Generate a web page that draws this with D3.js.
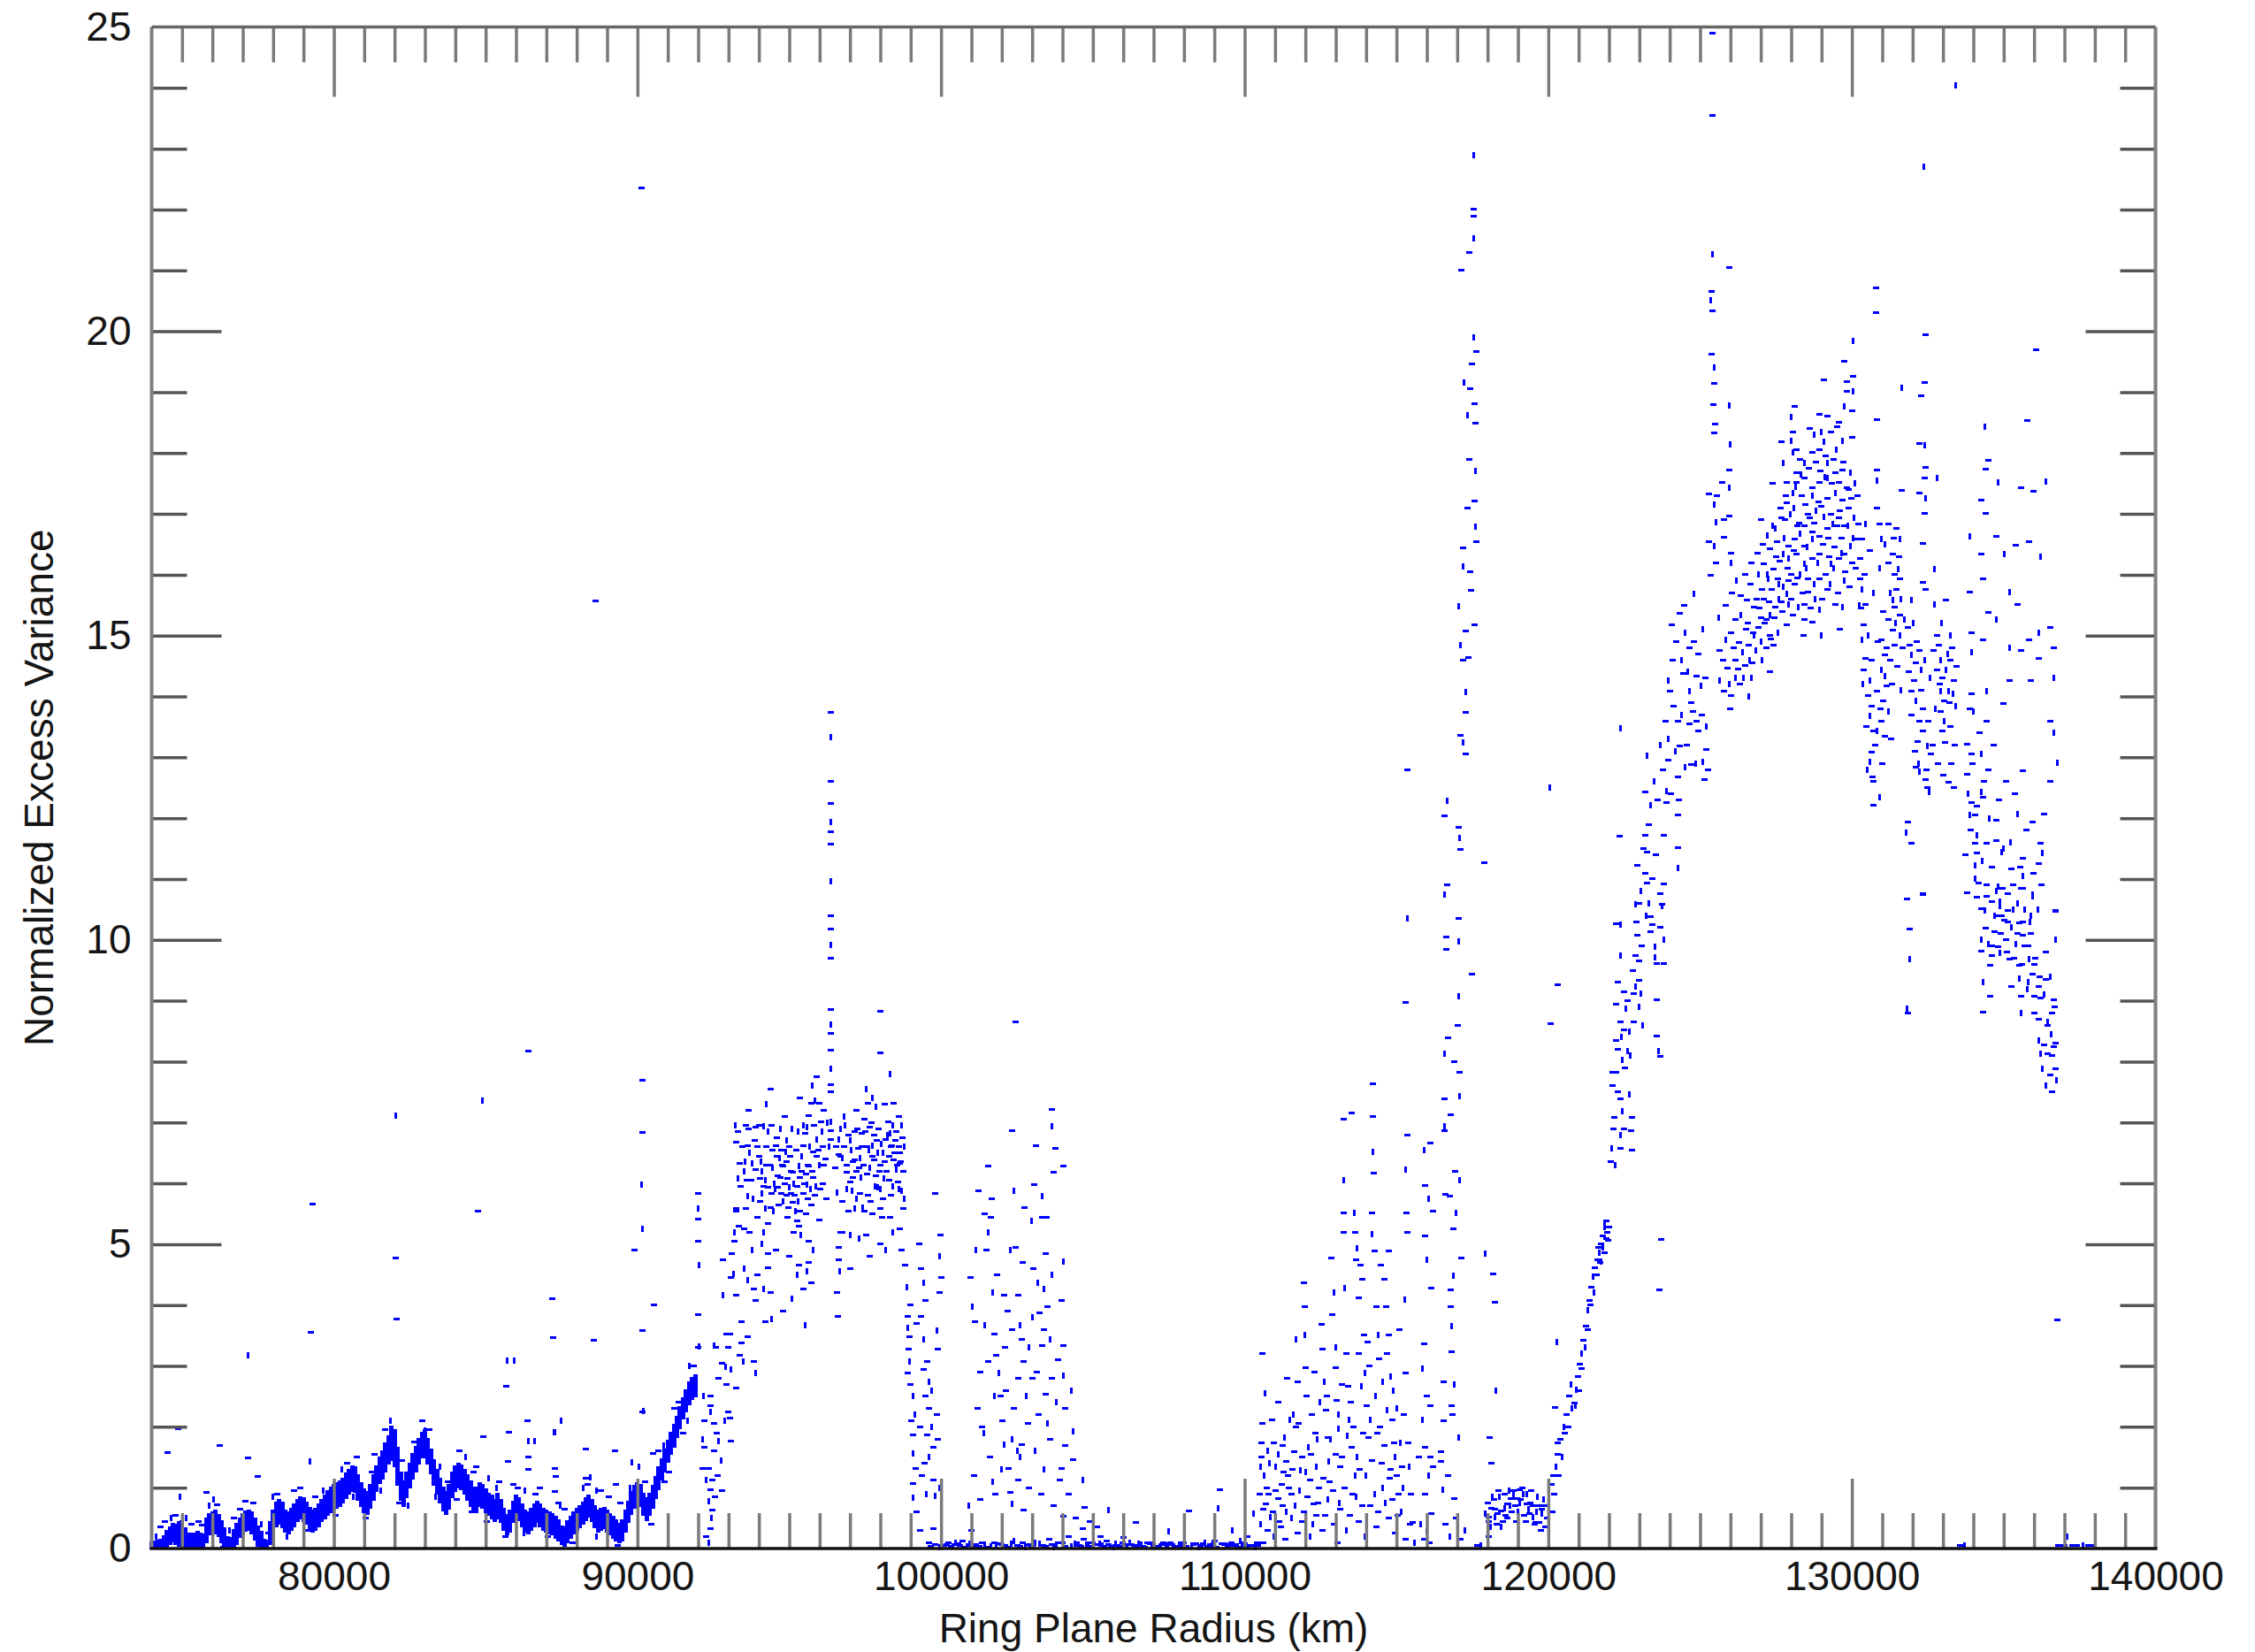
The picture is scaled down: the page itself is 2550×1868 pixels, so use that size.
<!DOCTYPE html>
<html>
<head>
<meta charset="utf-8">
<title>Normalized Excess Variance vs Ring Plane Radius</title>
<script src="https://cdn.jsdelivr.net/npm/d3@7"></script>
<style>
  html, body { margin: 0; padding: 0; background: #ffffff; overflow: hidden; }
  svg { display: block; }
</style>
</head>
<body>
<svg id="chart" width="2550" height="1868"></svg>
<script>
// ---- Axis settings -------------------------------------------------------
const radiusDomain = [74000, 140000];          // km
const varianceDomain = [0, 25];
const xTickLabels = [80000, 90000, 100000, 110000, 120000, 130000, 140000];
const yTickLabels = [0, 5, 10, 15, 20, 25];
const xTitle = "Ring Plane Radius (km)";
const yTitle = "Normalized Excess Variance";

// ---- C ring: dense band, [radius km, low, high] -------------------------
const cRingBand = [
[74000,0,0.1],[74100,0,0.12],[74200,0,0.13],[74300,0,0.15],[74400,0,0.21],[74500,0.03,0.29],[74600,0.07,0.35],
[74700,0.11,0.41],[74800,0.07,0.39],[74900,0.05,0.43],[75000,0.07,0.45],[75100,0,0.33],[75200,0,0.25],
[75300,0,0.25],[75400,0,0.25],[75500,0,0.27],[75600,0,0.25],[75700,0,0.23],[75800,0.1,0.5],[75900,0.23,0.57],
[76000,0.25,0.6],[76100,0.25,0.63],[76200,0.2,0.55],[76300,0.1,0.45],[76400,0.03,0.33],[76500,0,0.19],
[76600,0,0.17],[76700,0,0.3],[76800,0.07,0.4],[76900,0.19,0.5],[77000,0.25,0.57],[77100,0.29,0.61],
[77200,0.31,0.63],[77300,0.25,0.6],[77400,0.15,0.5],[77500,0.05,0.37],[77600,0,0.27],[77700,0,0.15],
[77800,0,0.13],[77900,0.07,0.43],[78000,0.25,0.63],[78100,0.37,0.75],[78200,0.4,0.8],[78300,0.35,0.75],
[78400,0.27,0.63],[78500,0.25,0.6],[78600,0.31,0.65],[78700,0.37,0.73],[78800,0.45,0.8],[78900,0.5,0.85],
[79000,0.45,0.83],[79100,0.4,0.75],[79200,0.33,0.67],[79300,0.27,0.63],[79400,0.3,0.65],[79500,0.37,0.73],
[79600,0.45,0.8],[79700,0.5,0.87],[79800,0.55,0.95],[79900,0.6,1.0],[80000,0.65,1.05],[80100,0.67,1.07],
[80200,0.7,1.1],[80300,0.75,1.15],[80400,0.83,1.23],[80500,0.9,1.3],[80600,0.95,1.35],[80700,0.93,1.33],
[80800,0.8,1.2],[80900,0.7,1.07],[81000,0.6,0.97],[81100,0.57,0.93],[81200,0.67,1.05],[81300,0.8,1.2],
[81400,0.95,1.35],[81500,1.07,1.5],[81600,1.15,1.6],[81700,1.27,1.73],[81800,1.4,1.85],[81900,1.45,2.0],
[82000,1.35,1.95],[82100,1.05,1.65],[82200,0.8,1.25],[82300,0.7,1.1],[82400,0.85,1.25],[82500,1.0,1.4],
[82600,1.15,1.55],[82700,1.27,1.67],[82800,1.4,1.8],[82900,1.5,1.9],[83000,1.5,1.95],[83100,1.4,1.8],
[83200,1.23,1.63],[83300,1.05,1.45],[83400,0.9,1.3],[83500,0.75,1.15],[83600,0.63,1.0],[83700,0.57,0.93],
[83800,0.65,1.05],[83900,0.85,1.25],[84000,0.95,1.35],[84100,1.0,1.4],[84200,0.97,1.37],[84300,0.9,1.3],
[84400,0.8,1.2],[84500,0.7,1.1],[84600,0.63,1.0],[84700,0.6,1.0],[84800,0.7,1.07],[84900,0.67,1.05],
[85000,0.6,0.97],[85100,0.55,0.9],[85200,0.5,0.87],[85300,0.45,0.8],[85400,0.5,0.9],[85500,0.43,0.8],
[85600,0.3,0.65],[85700,0.23,0.55],[85800,0.27,0.63],[85900,0.43,0.77],[86000,0.53,0.87],[86100,0.47,0.83],
[86200,0.37,0.73],[86300,0.27,0.63],[86400,0.25,0.6],[86500,0.3,0.65],[86600,0.37,0.73],[86700,0.43,0.77],
[86800,0.37,0.73],[86900,0.3,0.65],[87000,0.27,0.63],[87100,0.25,0.6],[87200,0.23,0.57],[87300,0.17,0.53],
[87400,0.13,0.47],[87500,0.07,0.37],[87600,0.05,0.35],[87700,0.1,0.45],[87800,0.17,0.53],[87900,0.25,0.6],
[88000,0.3,0.65],[88100,0.35,0.7],[88200,0.4,0.75],[88300,0.47,0.83],[88400,0.53,0.87],[88500,0.45,0.8],
[88600,0.35,0.7],[88700,0.27,0.63],[88800,0.3,0.65],[88900,0.33,0.67],[89000,0.27,0.63],[89100,0.23,0.57],
[89200,0.17,0.53],[89300,0.13,0.47],[89400,0.1,0.4],[89500,0.13,0.47],[89600,0.27,0.63],[89700,0.43,0.77],
[89800,0.57,0.93],[89900,0.67,1.03],[90000,0.73,1.07],[90100,0.7,1.05],[90200,0.55,0.9],[90300,0.47,0.83],
[90400,0.55,0.9],[90500,0.67,1.03],[90600,0.83,1.17],[90700,0.97,1.33],[90800,1.13,1.47],[90900,1.27,1.63],
[91000,1.43,1.77],[91100,1.55,1.9],[91200,1.67,2.03],[91300,1.83,2.17],[91400,1.97,2.33],[91500,2.13,2.47],
[91600,2.25,2.6],[91700,2.37,2.73],[91800,2.45,2.8],[91900,2.5,2.85]
];

// ---- C ring: isolated samples, [radius km, value] -----------------------
const cRingScatter = [
[74510,1.57],[74880,1.97],[74930,0.85],[75810,0.92],[76250,1.7],[77170,3.17],[77170,1.49],[77500,1.18],
[79220,1.43],[79230,3.56],[79290,5.66],[82040,7.12],[82050,4.77],[82060,3.77],[82990,1.94],[84690,1.34],
[84760,5.54],[84900,7.36],[84920,1.84],[85690,2.66],[85720,3.09],[85740,1.43],[85760,1.91],[85950,3.09],
[86380,2.1],[86400,8.18],[86400,1.77],[86420,1.5],[86420,1.3],[86600,1.76],[87200,4.11],[87220,3.46],
[87250,1.91],[87270,0.93],[87270,1.32],[87280,1.91],[87320,1.18],[87400,0.75],[87480,2.1],[88310,1.16],
[88310,1.63],[88440,1.17],[88570,3.42],[88620,15.57],[88640,0.95],[89250,1.61],[89300,1.05],[89810,1.41],
[89900,4.9],[90140,22.35],[90150,5.98],[90160,7.7],[90160,6.84],[90160,5.25],[90160,3.58],[90170,2.25],
[90200,2.26],[90550,4.0],[90520,1.56],[92020,3.32],[92570,3.3],
[74300,0.35],[74650,0.5],[75300,0.4],[75550,0.45],[76050,0.8],[76700,0.5],[77350,0.75],[78000,0.85],
[78700,0.95],[79400,0.85],[80250,1.3],[80750,1.5],[81350,1.55],[81850,2.1],[82250,1.45],[82900,2.1],
[83500,1.35],[84150,1.6],[84600,1.25],[85100,1.15],[85450,1.1],[85900,1.05],[86300,0.95],[86800,1.0],
[87600,0.65],[88200,1.0],[88800,0.95],[89450,0.75],[90050,1.35],[90700,1.6],[91200,2.3],[91700,3.0],
[91500,1.9],[90900,1.1],
[74150,0.2],[74450,0.45],[74800,0.55],[75150,0.5],[75450,0.05],[75650,0.38],[75900,0.7],[76150,0.72],
[76350,0.02],[76550,0.3],[76900,0.65],[77100,0.78],[77600,0.4],[77850,0.25],[78150,0.9],[78450,0.2],
[78900,1.0],[79150,0.3],[79650,0.95],[80050,0.55],[80450,1.4],[80650,0.85],[81050,0.5],[81250,1.25],
[81550,0.95],[81700,1.95],[82150,0.75],[82450,0.7],[82650,1.75],[83150,1.95],[83350,0.85],[83750,1.1],
[84050,0.8],[84350,1.5],[84550,0.6],[85050,0.45],[85350,1.0],[85650,0.2],[86050,1.0],[86250,0.25],
[86650,0.9],[87050,0.2],[87450,0.7],[87850,0.1],[88350,1.05],[88650,0.2],[89050,0.85],[89350,0.05],
[89750,1.0],[90250,1.1],[90450,0.4],[90850,1.7],[91050,1.25],[91350,2.4],[91650,2.1],[91850,3.0]
];

// ---- B ring, inner part (92 000 - 98 800 km) -----------------------------
const bRingInner = [
[92010,5.83],[92010,5.59],[92010,5.41],[92010,5.05],[92040,4.66],[91990,3.84],[91990,3.3],
[92170,2.5],[92210,2.1],[92400,2.5],[92400,2.25],[92530,2.05],[92600,1.9],[92140,1.8],[92210,1.66],
[92530,1.61],[92660,1.76],[92140,1.32],[92340,1.32],[92270,1.12],[92470,1.12],[92400,0.97],[92340,0.78],
[92470,0.63],[92400,0.33],[92340,0.09],[92400,2.35],[92250,0.2],[92450,0.5],[92550,0.85],[92650,1.2],
[92750,1.45],[92800,0.95],
[92820,4.75],[92820,4.17],[92920,3.53],[92990,3.3],[92900,2.99],[92920,2.69],[92990,2.25],[92860,2.1],
[93050,2.15],[93090,1.76],[92530,3.33],[92790,3.04],[92660,2.79],[93090,2.94],[93050,3.53],[93090,4.46],
[93180,5.2],[93180,5.05],[93120,4.85],[93160,4.51],[93250,4.17],[93380,3.18],[93480,3.08],[93440,3.72],
[93440,3.38],[93770,4.9],[93830,4.26],[93900,4.07],[93640,4.41],[93510,5.25],[93570,5.59],[93640,5.79],
[93250,5.59],[93250,5.54],[93310,6.08],[93380,6.33],[93250,6.67],[93220,6.96],[93570,6.96],[93900,6.92],
[94160,6.94],[94420,6.96],[93640,6.62],[93770,6.33],[93900,6.23],[94030,6.08],[94090,5.84],[94290,5.93],
[94420,5.84],[94220,5.59],[93960,5.44],[94290,5.34],[94160,5.2],[94290,4.85],[94310,4.61],[94160,4.26],
[94220,3.72],[93830,3.08],[93900,2.89],[93640,3.48],[93250,2.64],[94420,3.77],[94390,7.55],
[94550,6.62],[94680,6.42],[94810,6.28],[94940,6.08],[95000,5.93],[95070,5.84],[95130,5.69],[95200,5.54],
[95260,5.39],[95330,5.29],[94870,6.52],[94610,6.13],[94740,5.84],[94480,5.54],[94940,5.44],[95130,6.18],
[95330,6.28],[95460,6.62],[95520,6.82],[95590,6.92],[95650,7.11],[95720,7.31],[95850,7.36],[95980,7.31],
[96040,7.01],[95910,6.72],[95780,6.52],[95650,6.28],[95590,5.98],[95460,5.84],[95720,5.64],[95390,5.15],
[95650,5.05],[95330,4.66],[95590,4.56],[95720,4.36],[95460,4.26],[95520,3.67],[94610,5.93],[95910,7.75],
[93700,6.5],[93850,6.7],[94000,6.45],[94100,6.2],[94250,6.6],[94350,6.3],[94500,6.0],[94600,6.75],
[94700,6.1],[94800,5.7],[94900,6.35],[95050,6.2],[95150,6.0],[95250,5.95],[95350,6.1],[95400,6.45],
[95500,6.0],[95600,6.3],[95700,5.9],[95800,6.1],[95900,6.45],[96000,6.3],[96100,6.6],[94050,5.7],
[94450,6.25],[94750,6.55],[95000,6.6],[95300,5.7],[95550,5.5],[95850,5.8],[93500,6.2],[93400,5.95],
[93600,6.05],[94200,6.05],[94900,5.8],[95150,5.2],[95800,4.9],[96100,6.0],[96200,6.4],[96250,7.0],
[93300,6.85],[93450,6.6],[93550,6.35],[93650,6.9],[93750,6.05],[93800,5.75],[93950,6.6],[94000,6.95],
[94080,6.35],[94150,5.95],[94250,6.3],[94300,6.85],[94380,5.6],[94450,6.55],[94520,5.9],[94580,6.45],
[94650,5.65],[94700,6.9],[94780,6.3],[94850,6.0],[94920,6.7],[94980,5.6],[95030,6.45],[95100,6.9],
[95180,5.8],[95230,6.55],[95280,6.85],[95350,5.55],[95420,6.2],[95480,6.95],[95540,6.15],[95620,5.75],
[95680,6.6],[95760,6.2],[95820,6.95],[95880,5.95],[95950,6.55],[96020,5.9],[96080,6.85],[96150,6.3],
[96220,5.75],[96300,6.6],[93350,5.3],[93700,5.2],[94100,5.0],[94550,4.9],[95000,4.8],[95250,4.5],
[95650,4.7],[96000,5.4],[93500,4.6],[93950,4.5],[94400,4.2],[95100,4.1],[94800,3.9],[93650,7.2],
[94250,7.3],[94850,7.1],[95350,7.4],[95750,7.6],[96150,7.2],
[96370,13.74],[96360,13.33],[96370,12.61],[96360,12.24],[96370,11.94],[96380,11.78],[96360,11.58],
[96370,10.97],[96380,10.4],[96360,10.18],[96370,9.91],[96380,9.7],[96370,8.86],[96360,8.61],[96380,8.46],
[96360,8.19],[96370,7.88],[96380,7.62],[96360,7.5],[96370,7.01],[96380,6.87],[96370,6.72],
[96630,6.72],[96600,3.82],[96630,6.47],[96760,6.42],[96890,6.18],[97020,6.03],[97080,5.88],[97150,6.38],
[97270,6.57],[97340,6.42],[97400,6.82],[97470,7.06],[97530,7.55],[97600,7.31],[97660,6.92],[97730,6.62],
[97790,6.38],[97860,6.13],[97920,5.93],[97990,5.59],[98050,5.44],[98120,6.08],[98180,6.72],[98250,7.01],
[98310,6.82],[98380,6.62],[98440,6.38],[98510,6.23],[98570,6.03],[98640,6.33],[98700,5.88],[98770,5.59],
[98440,7.31],[97860,7.26],[97990,8.14],[97990,8.83],[98310,7.8],[96630,4.95],[96630,4.75],[96650,4.56],
[96560,4.21],[96760,5.2],[97020,5.15],[97530,5.15],[98310,5.44],[98180,4.9],[98640,5.25],[97470,5.54],
[97150,5.59],[97730,5.5],[97340,5.84],
[96700,6.9],[96800,6.6],[96950,6.8],[97050,6.55],[97200,6.2],[97250,6.9],[97350,6.1],[97450,6.3],
[97550,6.6],[97650,6.25],[97700,7.0],[97800,6.8],[97900,6.5],[97950,6.9],[98000,6.3],[98100,6.5],
[98200,6.2],[98300,6.45],[98400,6.95],[98500,6.7],[98600,6.6],[98700,6.95],[98650,6.5],[98550,6.3],
[96900,5.9],[97100,6.1],[97600,5.8],[98000,5.9],[98350,5.8],[98750,6.2],[98800,6.6],[96550,6.6],
[96500,6.25],[96580,5.85],[96680,6.45],[96750,5.7],[96830,6.95],[96880,6.3],[96960,5.55],[97010,6.7],
[97090,6.35],[97160,6.85],[97220,5.75],[97300,6.25],[97380,6.6],[97420,5.6],[97500,6.85],[97560,6.15],
[97620,6.55],[97680,5.7],[97750,6.45],[97830,5.95],[97880,6.7],[97960,6.2],[98030,6.65],[98080,5.75],
[98150,6.35],[98220,6.8],[98280,6.05],[98340,6.6],[98420,5.95],[98470,6.5],[98530,6.85],[98600,5.9],
[98680,6.35],[98730,6.75],[98780,5.75],[96700,5.2],[97000,4.6],[97300,5.1],[97650,4.8],[98000,5.0],
[98400,5.2],[98700,4.9],[97200,7.2],[97750,7.4],[98150,7.3],[98600,7.1],[96800,7.1]
];

// ---- B ring, 98 800 - 105 500 km -----------------------------------------
const bRingMiddle = [
[98830,4.66],[98900,3.82],[98900,3.62],[98960,3.48],[98940,3.28],[98960,3.08],[98900,2.89],[98990,2.69],
[99090,2.5],[99030,2.1],[99070,1.86],[99090,1.56],[99160,1.32],[99090,1.07],[99070,0.83],[99290,5.0],
[99350,4.6],[99420,4.36],[99480,4.07],[99350,3.82],[99420,3.43],[99550,3.08],[99420,2.94],[99610,2.74],
[99480,2.5],[99610,2.3],[99680,2.0],[99550,1.86],[99740,1.66],[99610,1.51],[99810,5.84],[99980,5.15],
[99940,4.8],[100000,4.46],[99940,4.21],[99870,3.58],[99900,3.28],[99740,1.12],[99810,0.87],[99740,0.33],
[99610,0.09],[98880,4.3],[99000,4.0],[99200,3.7],[99150,2.2],[99300,2.0],[99380,1.2],[99500,0.9],
[99450,1.4],[99200,0.6],[99700,2.6],[99850,2.2],[99900,1.8],[99950,1.0],[99300,0.3],
[100980,4.46],[101040,3.97],[101110,3.72],[101240,5.88],[101430,3.67],[101500,4.9],[101540,6.28],
[101560,5.2],[101630,5.44],[101670,5.74],[101690,4.21],[101760,3.53],[101820,3.18],[101890,2.89],
[101950,2.5],[102020,2.1],[102080,1.71],[102210,1.32],[102280,0.92],[102340,0.73],[102470,8.65],
[102340,6.87],[102410,5.88],[102470,4.95],[102540,4.16],[102600,3.67],[102670,3.43],[102730,3.08],
[102800,2.5],[102860,2.05],[102670,1.71],[102600,1.51],[102540,1.12],[102730,0.63],[102990,5.39],
[103060,5.98],[103120,6.62],[103190,4.36],[103250,3.87],[103320,3.33],[103380,4.26],[103450,2.54],
[103480,5.44],[103510,2.05],[103450,4.85],[103640,7.21],[103640,6.94],[103770,6.57],[103710,6.18],
[103320,5.79],[103320,5.44],[103510,3.97],[103580,3.43],[103640,2.79],[104030,6.28],[104030,4.71],
[103960,4.07],[104030,3.33],[104030,2.84],[103960,1.32],[104030,0.53],[104350,1.93],[104350,1.46],
[103900,1.12],[104680,1.12],[104740,0.68],[104680,0.33],[105520,0.63],[101560,3.08],[101300,2.9],
[102280,4.9],[102340,3.6],[102080,4.16],[101760,2.5],
[101100,1.2],[101300,0.8],[101400,1.9],[101600,1.5],[101800,0.9],[102000,1.3],[102150,2.6],[102400,2.3],
[102500,1.6],[102900,1.0],[103000,2.8],[103100,1.6],[103200,2.2],[103300,0.9],[103400,1.3],[103600,1.8],
[103700,0.7],[103800,2.4],[104100,1.7],[104200,0.9],[104300,2.6],[104450,0.5],[101200,2.3],[100900,0.7],
[101000,0.3],[102700,4.7],[102900,3.3],[103050,4.6],[102200,3.9],
[101150,4.9],[101350,2.0],[101450,5.5],[101700,1.1],[101850,4.5],[102100,3.3],[102350,1.8],[102550,2.8],
[102750,5.6],[103000,3.8],[103150,2.9],[103400,3.6],[103650,4.5],[103850,3.1],[104100,2.3]
];

// ---- B ring, opaque core: values close to zero ---------------------------
const bRingOpaque = [
[100000,0.05],[100100,0.05],[100250,0.1],[100400,0.04],[100550,0.08],[100700,0.12],[100850,0.03],
[101150,0.06],[101350,0.1],[101650,0.04],[101900,0.08],[102100,0.05],[102400,0.12],[102600,0.03],
[102850,0.07],[103100,0.1],[103350,0.05],[103550,0.15],[103800,0.06],[104000,0.1],[104200,0.2],
[104400,0.08],[104550,0.05],[104700,0.15],[104850,0.06],[105000,0.1],[105150,0.35],[105300,0.05],
[105450,0.12],[105600,0.04],[105750,0.08],[105900,0.03],[106050,0.06],[106200,0.1],[106350,0.05],
[106430,0.43],[106500,0.08],[106650,0.04],[106800,0.1],[106950,0.06],[107100,0.03],[107250,0.07],
[107400,0.05],[107550,0.1],[107700,0.04],[107850,0.06],[108000,0.1],[108170,0.62],[108250,0.05],
[108400,0.08],[108550,0.04],[108700,0.1],[108850,0.06],[109000,0.12],[109140,0.66],[109190,0.97],
[109250,0.08],[109400,0.05],[109550,0.1],[109700,0.06],[109850,0.12],[110000,0.08],[110100,0.2],
[110280,0.58],[110400,0.1],[104900,0.45],[107500,0.28],[105250,0.2],[106000,0.18],[109600,0.3],
[99650,0.03],[99800,0.06],[99950,0.02],[100180,0.07],[100330,0.03],[100480,0.09],[100630,0.05],
[100780,0.02],[100930,0.08],[101050,0.04],[101250,0.03],[101450,0.07],[101550,0.02],[101750,0.09],
[101820,0.03],[102000,0.06],[102200,0.02],[102300,0.08],[102500,0.05],[102700,0.09],[102780,0.02],
[102950,0.05],[103000,0.03],[103250,0.08],[103450,0.03],[103650,0.06],[103700,0.02],[103900,0.09],
[104100,0.04],[104300,0.03],[104480,0.1],[104620,0.03],[104780,0.07],[104950,0.03],[105080,0.06],
[105220,0.08],[105380,0.03],[105520,0.07],[105680,0.02],[105820,0.05],[105980,0.09],[106120,0.03],
[106280,0.07],[106420,0.03],[106580,0.06],[106720,0.02],[106880,0.08],[107020,0.04],[107180,0.02],
[107320,0.09],[107480,0.03],[107620,0.06],[107780,0.02],[107920,0.07],[108080,0.03],[108320,0.06],
[108480,0.02],[108620,0.08],[108780,0.03],[108920,0.05],[109080,0.02],[109320,0.07],[109480,0.03],
[109620,0.05],[109780,0.02],[109920,0.07],[110050,0.03],[110200,0.05],[110350,0.02]
];

// ---- B ring, outer part (110 000 - 117 700 km) ---------------------------
const bRingOuter = [
[110440,0.05],[110490,0.89],[110510,1.35],[110540,1.74],[110590,3.2],[110680,2.55],[110590,2.05],
[110540,1.51],[110650,1.2],[110700,0.74],[110800,0.89],[110850,0.51],[110900,2.12],[110960,1.74],
[111010,1.35],[111110,0.82],[111220,1.05],[111320,1.82],[111370,1.43],[111430,1.2],[111480,2.12],
[111530,0.89],[111630,1.59],[111690,3.43],[111740,2.74],[111790,2.05],[111840,1.28],[111950,4.36],
[111970,3.97],[111980,3.51],[112000,2.97],[112050,2.51],[112100,1.66],[112150,1.12],[112260,0.74],
[112360,1.35],[112520,3.69],[112570,3.28],[112620,2.74],[112670,2.28],[112730,1.82],[112780,1.43],
[112860,4.77],[112880,3.85],[112930,4.2],[112990,2.97],[113040,2.43],[113090,1.97],[113140,1.35],
[113250,7.05],[113270,6.05],[113270,5.51],[113270,5.2],[113300,4.28],[113350,3.2],[113400,2.66],
[113450,2.12],[113510,7.16],[113530,1.66],[113610,5.51],[113640,5.2],[113660,4.74],[113710,4.94],
[113770,4.12],[113820,4.66],[113840,2.66],[113870,4.43],[113920,3.51],[113970,2.89],[114030,2.35],
[114080,1.82],[114130,2.12],[114230,7.63],[114230,7.1],[114230,6.51],[114260,6.17],[114190,5.51],
[114190,5.17],[114290,4.89],[114340,3.97],[114390,3.51],[114440,3.12],[114490,4.66],[114550,2.74],
[114600,4.43],[114650,3.97],[114700,2.28],[114750,4.89],[114750,3.51],[114810,2.82],[114860,2.12],
[114910,1.74],[114960,1.51],[115010,1.2],[115070,0.89],[115120,1.74],[115170,1.35],
[110750,0.3],[110950,0.2],[111150,0.45],[111350,0.15],[111550,0.5],[111750,0.25],[111950,0.6],
[112150,0.2],[112350,0.55],[112550,0.3],[112750,0.8],[112950,0.4],[113150,0.65],[113350,0.3],
[113550,0.9],[113750,0.45],[113950,0.2],[114150,0.7],[114350,0.35],[114550,1.0],[114750,0.5],
[114950,0.25],[115150,0.6],[115300,0.15],[115450,0.4],[115600,0.1],[111250,0.7],[112450,1.0],
[113650,1.2],[114850,0.8],[110600,0.1],[111800,0.95],[113050,0.1],[114400,0.6],
[110750,1.6],[111100,2.4],[111250,1.7],[111600,2.2],[111900,1.5],[112200,2.2],[112400,1.8],[112700,2.5],
[112800,1.1],[113000,3.3],[113200,1.5],[113500,2.4],[113700,1.5],[113900,1.9],[114100,3.0],[114300,2.5],
[114600,1.7],[114800,1.3],[115000,2.3],[112300,2.9],[111400,2.8],[113100,2.2],[113750,3.2],[114450,2.0],
[110520,0.4],[110620,0.65],[110720,1.0],[110820,1.4],[110920,0.6],[111020,0.95],[111120,1.55],[111180,0.35],
[111280,1.25],[111380,0.6],[111460,1.0],[111560,1.3],[111660,0.7],[111700,2.0],[111880,0.45],[112020,1.25],
[112080,0.85],[112180,1.55],[112240,0.4],[112320,1.9],[112420,0.75],[112490,2.4],[112600,1.15],[112660,0.55],
[112820,1.8],[112900,0.95],[113000,1.55],[113120,0.75],[113190,2.7],[113280,1.0],[113380,1.85],[113480,0.55],
[113580,2.0],[113680,0.85],[113800,1.3],[113880,0.7],[114000,1.2],[114060,3.4],[114180,1.45],[114280,0.9],
[114360,1.9],[114520,1.4],[114620,0.75],[114680,3.2],[114780,1.15],[114900,2.6],[115040,0.55],[115100,3.6],
[115200,1.0],[115250,2.2],
[115350,12.79],[115350,10.36],[115300,8.97],[115350,6.79],[115300,6.23],[115330,5.51],[115350,5.2],
[115270,4.09],[115290,2.89],[115380,1.74],[115430,1.35],[115480,0.89],[115530,0.43],
[115900,6.54],[116110,6.66],[115950,5.97],[116050,5.74],[116190,5.54],[115950,5.13],[116000,4.74],
[116160,4.28],[115900,3.36],[115850,2.96],[116000,2.51],[116110,2.35],[115850,2.12],[115950,1.66],
[116110,1.51],[116050,1.2],[115950,0.89],[116160,0.58],[116000,0.28],[115740,1.5],[116210,1.35],
[115800,0.4],[116100,0.1],[115900,0.15],
[116680,12.28],[116590,12.04],[117060,11.85],[117090,11.67],[117110,11.48],[116680,10.9],[116590,10.74],
[117040,10.36],[116650,10.05],[117040,9.97],[116650,9.85],[117490,9.44],[117040,9.08],[117020,8.59],
[116700,8.39],[116590,8.13],[116890,8.0],[117070,7.82],[117070,7.43],[116570,7.39],[116780,7.13],
[116590,6.94],[116590,6.86],[116940,6.2],[117070,6.05],[116620,5.82],[116750,5.79],[116970,5.51],
[116870,5.25],[117150,4.77],[116870,4.48],[116800,4.25],[116780,3.97],[116830,3.66],[116810,3.23],
[116540,2.74],[116890,2.69],[116810,2.35],[116850,2.2],[117060,1.82],[116470,1.59],[116470,1.43],
[116520,0.97],[116890,0.82],[116600,0.4],[116750,0.2],[116950,0.5],[117100,0.15],[117250,0.3],
[116550,2.1],[116700,1.2],
[117530,22.9],[117530,22.01],[117530,21.89],[117530,21.52],[117400,21.29],[117150,21.01],[117530,19.9],
[117640,19.67],[117480,19.47],[117230,19.16],[117430,19.05],[117560,18.81],[117350,18.62],[117610,18.49],
[117390,17.89],[117610,17.7],[117560,17.21],[117350,17.1],[117610,16.79],[117640,16.55],[117200,16.44],
[117200,16.13],[117440,16.05],[117460,15.75],[117060,15.48],[117560,15.18],[117280,15.08],[117120,14.85],
[117360,14.64],[117180,14.59],[117280,14.08],[117280,13.74],[117120,13.36],[117200,13.24],[117280,13.05]
];

// ---- Cassini Division and inner A ring edge (117 700 - 122 000 km) -------
const cassiniDivision = [
[117890,11.27],[117920,4.85],[118190,4.51],[118240,4.05],[118270,2.59],[118080,1.82],[118130,1.4],
[117920,0.58],[118030,0.51],[118130,0.66],[118240,0.51],[118340,0.58],[118450,0.62],[118550,0.66],
[118650,0.74],[118760,0.82],[118860,0.89],[118970,0.82],[119070,0.97],[119170,0.89],[119280,0.74],
[119380,0.58],[119490,0.51],[119590,0.43],[119690,0.43],[119800,0.58],[119900,0.35],[117670,0.05],
[117770,0.05],[118030,0.2],[118000,0.75],[118100,0.35],[118200,0.8],[118300,0.4],[118400,0.85],
[118500,0.45],[118600,0.55],[118700,0.95],[118800,0.6],[118900,0.7],[119000,0.6],[119100,0.8],
[119200,0.55],[119300,0.9],[119400,0.75],[119500,0.7],[119600,0.6],[119700,0.7],[119750,0.3],
[119850,0.8],[119950,0.5],
[118050,0.45],[118150,0.85],[118250,0.65],[118350,0.95],[118450,0.35],[118550,0.9],[118650,0.5],
[118750,0.7],[118850,0.95],[118950,0.45],[119050,0.75],[119150,1.0],[119250,0.45],[119350,0.65],
[119450,0.95],[119550,0.4],[119650,0.85],[119800,0.65],[119900,0.7],
[120040,12.51],[120090,8.62],[120320,9.27],[120270,3.39],[120210,2.32],[120320,1.74],[120240,1.35],
[120160,1.2],
[120110,1.05],[120240,1.35],[120300,1.55],[120400,1.8],[120500,2.0],[120600,2.2],[120700,2.5],
[120780,2.3],[120200,0.9],[120350,1.2],[120450,1.5],[120550,1.9],[120650,2.0],[120750,2.7],[120150,0.6],
[120850,2.39],[120910,2.61],[120980,2.82],[121040,3.03],[121100,3.2],[121165,3.42],[121230,3.66],
[121290,3.91],[121355,4.08],[121420,4.3],[121480,4.47],[121545,4.61],[121610,4.75],[121670,4.86],
[121735,5.0],[121800,5.14],[121860,5.28],[121925,5.39],[121990,5.28],[121735,4.72],[121860,4.86],
[121960,5.07],[120900,2.35],[121000,2.6],[121100,2.95],[121200,3.3],[121300,3.6],[121400,4.0],
[121500,4.2],[121600,4.5],[121700,4.7],[121800,4.95],[121900,5.1],[121950,5.2],[121850,5.35],[121650,4.95]
];

// ---- A ring (122 000 - 138 000 km) ----------------------------------------
const aRing = [
[122050,6.35],[122090,6.57],[122365,6.57],[122745,6.54],[122365,6.8],[122720,6.87],[122180,7.08],
[122430,7.18],[122745,7.08],[122365,7.39],[122680,7.46],[122110,7.61],[122240,7.82],[122430,8.03],
[122110,7.82],[122300,8.2],[122620,8.18],[122240,8.35],[122490,8.52],[122680,8.49],[122810,8.66],
[122365,8.66],[122555,8.87],[122240,8.94],[122490,9.15],[122870,9.23],[123000,9.33],[122810,9.12],
[123060,9.12],[123000,9.65],[122870,9.75],[122365,9.75],[122935,10.07],[123380,10.14],[123500,9.72],
[123565,9.61],[123820,9.61],[123500,9.89],[123690,10.21],[123440,10.25],[123820,10.0],[123565,9.01],
[123565,8.42],[123630,8.17],[123690,8.08],[123000,10.6],[123315,10.6],[123820,10.92],[123755,10.58],
[122365,10.25],[123730,5.08],[123655,4.25],
[122365,13.47],[122340,11.7],[122240,10.26],[122870,10.59],[122935,11.22],[123190,12.43],[123250,13.03],
[123190,11.72],[123250,11.44],[123380,12.22],[123190,11.09],[123250,10.94],[123060,10.8],[123380,10.38],
[123690,10.76],[123755,10.55],[123820,11.72],[123880,12.26],[123880,12.44],[124260,12.05],[124260,11.51],
[124260,11.18],[123945,12.95],[124010,14.09],[123945,14.26],[124135,13.84],[124260,13.59],[124390,14.59],
[124070,15.18],[124325,15.36],[124515,15.05],[124640,14.8],[124450,14.38],[124640,14.09],[124765,13.76],
[124895,14.34],[125020,14.18],[124955,13.43],[125210,13.13],[125085,12.93],[125145,12.63],[124705,12.88],
[124515,12.84],[124260,12.68],[124325,13.18],[124790,15.68],[124640,13.55],[124895,13.59],[125210,13.51],
[122150,6.9],[122280,7.5],[122400,8.4],[122520,7.9],[122600,9.0],[122700,8.1],[122800,9.5],[122900,10.3],
[122980,8.9],[123080,9.9],[123150,11.5],[123230,10.4],[123300,11.9],[123420,11.0],[123480,12.6],[123550,11.4],
[123600,12.3],[123680,13.2],[123780,12.8],[123850,13.6],[123950,13.3],[124030,12.4],[124100,14.6],[124180,13.1],
[124220,14.9],[124300,12.3],[124400,13.7],[124480,15.5],[124550,13.2],[124600,14.4],[124700,13.9],[124800,14.9],
[124850,12.9],[124950,14.7],[125050,13.7],[125100,15.1],[125180,14.3],[125250,12.8],[122200,6.3],[122500,6.9],
[122300,9.3],[123100,8.6],
[125400,24.9],[125420,23.55],[125400,21.26],[125970,21.05],[125375,20.66],[125335,20.51],[125400,20.33],
[125375,19.62],[125460,19.41],[125460,19.15],[125425,18.8],[125970,18.78],[125500,18.47],[125460,18.33],
[125995,18.14],[125970,17.72],[125715,17.51],[125970,17.43],[125300,17.33],[125550,17.3],[125460,17.15],
[125970,16.97],[125780,16.91],[125525,16.86],[125780,16.62],[125300,16.55],[125460,16.47],[126005,16.36],
[125525,16.19],[126005,16.19],[125335,15.99],
[125650,14.76],[125840,14.93],[126030,15.05],[126160,15.26],[126350,15.34],[125905,14.47],[126160,14.59],
[126410,14.72],[126600,14.84],[126285,14.88],[126790,15.01],[126915,15.13],[127170,15.26],[127295,15.34],
[127485,15.47],[127675,15.55],[127865,15.68],[126790,15.47],[127040,15.76],[127230,15.93],[127420,16.09],
[127610,16.22],[127740,16.34],[127925,16.47],[128115,16.59],[128305,16.68],[128430,16.8],[128620,16.93],
[128810,17.05],[129000,17.13],[129190,17.26],[129445,17.34],[129700,17.22],[129885,17.09],[130075,16.93],
[128685,17.43],[128940,17.51],[129190,17.59],[128430,17.59],[128180,17.51],[128055,17.34],[127865,17.18],
[127675,16.93],[127485,16.76],[127295,16.43],[127105,16.18],[126915,16.01],[126665,15.84],[126540,15.59],
[125650,14.26],[125780,14.09],[126030,14.01],[126160,14.3],[126475,14.51],[126725,14.55],[127040,14.59],
[127170,14.8],[127420,14.84],[127550,15.05],[127865,15.18],[128055,15.34],[128245,15.47],[128430,15.51],
[128560,15.72],[128750,15.84],[128940,15.93],[129130,16.01],[129320,16.18],[129570,16.26],[129760,16.34],
[129950,16.47],[130140,16.59],[130200,16.84],[127925,16.26],[128180,16.34],[128430,16.47],[128685,16.59],
[128940,16.63],[129190,16.76],[129380,16.84],[129570,16.93],[129760,16.8],[128430,16.18],[128685,16.26],
[128940,16.34],[128305,16.01],[128560,15.93],[128115,15.84],[127740,15.8],[127550,15.93],[127360,15.76],
[127925,15.51],[128430,15.26],[128685,15.22],[128940,15.42],[129190,15.76],[129445,15.51],[129700,15.47],
[127865,17.51],[128180,17.68],[128430,17.84],[128685,18.01],[128940,18.05],[129190,17.84],[129445,17.68],
[129700,17.72],[129950,17.68],[129825,17.43],[129570,17.51],[129065,18.18],[129320,18.34],[129570,18.51],
[129760,18.76],[129825,19.01],[129825,19.18],[130050,19.01],[130040,19.26],[129760,19.51],[130050,19.84],
[129065,19.2],[128115,18.76],[127990,18.59],[128055,18.34],[127675,18.18],[127740,17.84],[128180,18.05],
[128940,18.63],[129000,18.34],[129510,18.43],[130015,18.26],[128055,18.01],
[126300,14.2],[126500,15.1],[126700,14.3],[126850,15.6],[127000,15.3],[127200,16.0],[127300,15.0],
[127500,16.3],[127600,15.6],[127800,16.9],[128000,16.0],[128100,17.1],[128200,16.8],[128350,17.3],
[128500,16.1],[128550,17.0],[128700,16.7],[128800,15.6],[128900,17.2],[129050,16.5],[129100,17.6],
[129250,16.3],[129300,17.0],[129400,16.1],[129500,16.8],[129650,16.6],[129750,15.9],[129900,17.4],
[130000,16.2],[130100,17.5],[127100,15.6],[128300,17.9],[128750,18.3],[129400,17.9],[127900,15.9],
[125600,15.3],[125750,14.6],[125850,15.5],[125950,14.2],[126050,15.7],[126100,14.8],[126200,15.9],[126250,14.45],
[126350,15.65],[126420,14.3],[126480,16.0],[126560,15.2],[126620,14.6],[126700,16.2],[126760,15.05],[126830,14.75],
[126880,16.35],[126960,15.45],[127020,14.9],[127080,16.5],[127140,15.2],[127220,16.65],[127270,15.55],[127330,14.95],
[127400,16.8],[127450,15.3],[127520,16.55],[127580,15.85],[127640,17.1],[127700,15.4],[127760,16.6],[127820,17.3],
[127880,16.1],[127960,17.0],[128010,15.6],[128080,16.4],[128140,17.45],[128200,15.95],[128260,16.85],[128330,17.65],
[128380,15.7],[128460,17.15],[128520,16.45],[128590,17.75],[128640,15.45],[128700,17.3],[128770,16.85],[128830,17.85],
[128880,16.2],[128960,17.7],[129020,15.6],[129080,16.95],[129150,17.95],[129220,16.6],[129280,15.85],[129350,17.5],
[129420,16.45],[129480,18.05],[129540,15.7],[129600,17.05],[129660,16.35],[129720,17.85],[129790,16.05],[129850,16.8],
[129920,15.8],[129980,17.25],[130040,16.6],[130120,16.1],[130180,17.3],[130250,15.5],[127000,16.9],[127400,17.5],
[128000,18.2],[128600,18.4],[129200,18.6],[129700,18.2],[130000,18.7],[128400,15.0],[129000,15.0],[129600,15.1],
[126000,13.8],[126600,14.0],[127300,14.4],
[130330,16.59],[130455,16.84],[130835,17.09],[130900,16.84],[130960,16.59],[131215,16.84],[131465,16.76],
[131595,16.59],[130265,16.26],[130265,15.93],[130330,15.76],[130455,15.51],[130390,15.18],[130330,14.93],
[130455,14.63],[130390,14.43],[130580,14.26],[130520,14.01],[130645,13.84],[130580,13.68],[130710,13.43],
[130645,13.09],[130605,12.93],[130680,12.68],[130710,12.22],[130900,12.34],[130960,14.93],[131090,14.68],
[130960,14.43],[131150,14.18],[131025,13.93],[131215,13.76],[130960,13.59],[131090,13.34],[130835,13.43],
[131340,16.34],[131405,16.01],[131530,16.09],[131595,15.93],[131465,15.76],[131340,15.59],[131405,15.47],
[131570,15.34],[131720,15.26],[131215,15.26],[131340,15.09],[131595,15.01],[131405,14.84],[131275,14.59],
[131090,14.34],[130835,14.09],
[130300,15.45],[130350,14.2],[130420,16.0],[130480,13.5],[130540,15.0],[130600,16.4],[130660,14.6],[130720,15.7],
[130780,13.2],[130840,14.9],[130900,16.1],[130950,13.8],[131020,15.4],[131080,16.5],[131140,14.8],[131200,16.2],
[131260,15.7],[131320,14.2],[131380,16.6],[131440,15.2],[131500,14.5],[131560,16.3],[131620,15.6],[131680,14.8],
[130700,12.6],[130500,12.8],[131000,12.9],[131300,13.3],[131600,14.1],
[130810,20.72],[130810,20.3],[131655,19.07],[130835,18.55],[130835,17.72],[130835,17.55],[131655,17.38],
[132415,19.95],[132380,22.7],[132390,19.16],[132290,18.94],[132390,18.13],[132225,18.16],[132415,17.76],
[132795,17.59],[132390,17.59],[132225,17.34],[132415,17.26],[132390,17.01],[132350,16.51],[132730,16.09],
[132350,15.88],[132415,15.76],[133430,24.04],[136080,19.7],[135765,18.54],[136395,17.53],[135990,17.37],
[135575,17.43],[134375,18.43],[134500,17.88],[134410,17.74],[134815,17.51],[134250,17.22],[134400,17.01],
[131970,15.59],[131845,15.13],[131910,14.84],[131970,14.68],[132100,14.55],[132225,14.76],[132290,14.43],
[132035,14.26],[131970,14.09],[132100,13.93],[132225,13.59],[132350,13.43],[132480,13.18],[132160,13.26],
[132605,13.05],[132225,12.76],[132415,12.63],[132480,12.51],[132540,12.43],[132100,12.84],[131845,11.93],
[131785,11.76],[131970,11.59],[132350,10.76],[132730,15.51],[132795,15.01],[132860,14.84],[132920,14.59],
[132795,14.43],[132985,14.3],[133110,14.43],[133235,14.59],[133365,14.26],[133175,14.09],[133045,13.93],
[132920,13.76],[133045,13.59],[132985,13.43],[133235,13.51],[133425,13.84],[133175,12.59],[133365,12.51],
[133235,15.01],[133300,14.8],[133110,15.59],[132920,14.09],
[131880,14.4],[131950,13.7],[132020,15.2],[132080,13.1],[132150,14.9],[132200,12.9],[132270,14.1],[132330,13.8],
[132400,14.6],[132450,12.8],[132520,13.6],[132580,14.3],[132650,13.2],[132700,14.75],[132760,13.8],[132830,12.9],
[132890,14.2],[132950,15.2],[133020,12.7],[133080,13.25],[133150,14.7],[133200,13.9],[133270,12.9],[133330,14.05],
[133400,13.2],[133460,14.5],
[131820,8.87],[131850,8.8],[131910,10.18],[131910,9.68],[131820,10.67],[132350,10.74],
[133870,16.63],[134250,16.34],[134750,16.63],[135005,16.34],[135385,16.49],[135830,16.55],[136205,16.3],
[133870,15.72],[134310,15.93],[135195,15.72],[135450,15.51],[134500,15.38],[134750,15.26],[133930,15.05],
[134310,14.93],[135195,14.8],[135575,14.76],[135830,14.93],[136145,15.05],[136525,15.13],[136650,14.8],
[133930,14.72],[136145,14.63],[133930,14.05],[134435,14.09],[135195,14.26],[135890,14.26],[136650,14.3],
[134980,13.88],[133870,13.8],[133995,13.76],[134435,13.59],[136525,13.59],[136650,13.41],[133805,13.22],
[133930,13.05],[134250,13.05],[134500,12.8],[135640,12.78],[136775,12.91],[136525,12.61],[133805,12.72],
[134250,12.43],[134310,12.34],[133930,12.26],[133870,12.05],[134060,12.05],[134750,11.97],[135450,12.07],
[135955,11.93],[136335,12.07],[134120,11.72],[134060,11.59],[134120,11.43],[134060,11.22],[134435,11.59],
[134750,11.63],[134945,11.44],[135640,11.34],[136205,11.59],[136270,11.43],[136145,11.26],[135260,11.16],
[135640,11.05],[134185,10.93],[134435,10.72],[134815,10.88],[135130,10.76],[135640,10.84],[135955,10.72],
[136710,10.47],[134250,10.51],[134880,10.63],[135640,10.3],
[133750,11.4],[133820,12.4],[133900,11.8],[133980,12.9],[134050,11.0],[134130,12.2],[134200,13.4],[134280,11.3],
[134350,12.6],[134450,10.9],[134520,12.0],[134600,11.2],[134680,13.2],[134760,10.8],[134840,12.3],[134920,10.4],
[135000,11.5],[135080,12.6],[135150,10.3],[135230,11.6],[135300,10.9],[135380,12.4],[135460,10.6],[135530,11.2],
[135600,9.6],[135680,10.5],[135750,11.8],[135820,9.9],[135900,10.4],[135980,11.1],[136050,9.7],[136120,10.5],
[136180,9.4],[136250,10.9],[136320,9.1],[136380,9.8],[136450,8.6],[136520,9.4],[136600,8.1],[136680,8.9],
[136740,7.7],[134400,10.2],[134600,9.9],[134700,10.4],[134900,10.1],[135100,9.8],[135300,10.5],[135450,10.1],
[135700,9.9],[135850,10.3],[136000,9.6],[136400,9.35],[136560,8.45],[134950,10.85],[135350,9.7],[135800,9.3],
[133805,10.77],[134120,10.7],[134375,10.49],[134625,10.63],[134750,10.39],[134880,10.56],[135005,10.32],
[135130,10.49],[135260,10.21],[135510,10.28],[134690,10.14],[134500,9.93],[134815,9.89],[135070,10.0],
[135385,9.93],[135640,10.07],[135890,10.1],[134250,10.0],[134250,9.82],[134625,9.75],[134880,9.79],
[135195,9.68],[135510,9.58],[135830,9.68],[135955,9.44],[136145,9.23],[135510,9.37],[135260,9.23],
[135575,9.08],[135765,9.19],[136020,9.08],[136205,9.05],[135575,8.8],[136020,8.8],[136585,8.8],
[136460,8.66],[136145,8.7],[134565,9.58],[134310,9.3],[134565,9.08],[134310,8.82],[136145,8.35],
[136335,8.27],[136710,8.31],[136205,8.13],[136460,8.13],[136650,8.24],[136270,7.89],[136525,7.78],
[136710,7.89],[136395,7.61],[136585,7.5],[136710,10.48],[136710,10.0],[136650,9.01],[135575,10.85],
[135955,10.74],[136775,3.75],
[133560,0.05],[133700,0.05],[136800,0.05],[137000,0.05],[137100,0.2],[137250,0.05],[137400,0.05],
[137600,0.05],[137800,0.05],[137950,0.05]
];

// ---- Layout --------------------------------------------------------------
const W = 2550, H = 1868;
const plot = { left: 171.5, right: 2437.5, top: 30.5, bottom: 1751 };
const fontFamily = "'Liberation Sans', Arial, Helvetica, sans-serif";
const markColor = "#0000ff";

const svg = d3.select("#chart");
svg.append("rect").attr("width", W).attr("height", H).attr("fill", "#ffffff");

const x = d3.scaleLinear().domain(radiusDomain).range([plot.left, plot.right]);
const y = d3.scaleLinear().domain(varianceDomain).range([plot.bottom, plot.top]);

const marks = svg.append("g").attr("shape-rendering", "crispEdges").attr("fill", markColor);

// C ring band: one short vertical strip per sampled radius
marks.append("g").selectAll("rect")
  .data(cRingBand)
  .join("rect")
  .attr("x", d => x(d[0]) - 2.5)
  .attr("width", 5)
  .attr("y", d => y(d[2]) - 1)
  .attr("height", d => y(d[1]) - y(d[2]) + 2);

// Individual samples drawn as short dashes (mostly horizontal, every third vertical)
const samples = [].concat(cRingScatter, bRingInner, bRingMiddle, bRingOpaque,
                          bRingOuter, cassiniDivision, aRing);
const isVertical = i => i % 3 === 2;
marks.append("g").selectAll("rect")
  .data(samples)
  .join("rect")
  .attr("x", (d, i) => x(d[0]) - (isVertical(i) ? 1.5 : 3.5))
  .attr("y", (d, i) => y(d[1]) - (isVertical(i) ? 3.5 : 1.5))
  .attr("width", (d, i) => isVertical(i) ? 3 : 7)
  .attr("height", (d, i) => isVertical(i) ? 7 : 3);

// ---- Axes (ticks point inward on all four sides) --------------------------
const xMinor = d3.range(radiusDomain[0] + 1000, radiusDomain[1], 1000).filter(v => v % 10000 !== 0);
const xMajorLines = xTickLabels.filter(v => v > radiusDomain[0] && v < radiusDomain[1]);
const yMinor = d3.range(1, varianceDomain[1]).filter(v => v % 5 !== 0);
const yMajorLines = yTickLabels.filter(v => v > varianceDomain[0] && v < varianceDomain[1]);
const majorLen = 79, minorLen = 40;

function ticks(axisFn, scale, values, len, tx, ty, color) {
  const g = svg.append("g")
    .attr("transform", `translate(${tx},${ty})`)
    .call(axisFn(scale).tickValues(values).tickSize(-len).tickFormat(""));
  g.select(".domain").remove();
  g.selectAll(".tick text").remove();
  g.selectAll(".tick line").attr("stroke", color).attr("stroke-width", 3.5);
  return g;
}

const tickGray = "#7a7a7a", tickDark = "#555555";
ticks(d3.axisBottom, x, xMinor, minorLen, 0, plot.bottom, tickGray);
ticks(d3.axisBottom, x, xMajorLines, majorLen, 0, plot.bottom, tickGray);
ticks(d3.axisTop, x, xMinor, minorLen, 0, plot.top, tickGray);
ticks(d3.axisTop, x, xMajorLines, majorLen, 0, plot.top, tickGray);
ticks(d3.axisLeft, y, yMinor, minorLen, plot.left, 0, tickDark);
ticks(d3.axisLeft, y, yMajorLines, majorLen, plot.left, 0, tickDark);
ticks(d3.axisRight, y, yMinor, minorLen, plot.right, 0, tickDark);
ticks(d3.axisRight, y, yMajorLines, majorLen, plot.right, 0, tickDark);

// Frame
const frame = svg.append("g").attr("fill", "none");
frame.append("line").attr("x1", plot.left).attr("x2", plot.left).attr("y1", plot.top).attr("y2", plot.bottom)
  .attr("stroke", "#808080").attr("stroke-width", 4);
frame.append("line").attr("x1", plot.right).attr("x2", plot.right).attr("y1", plot.top).attr("y2", plot.bottom)
  .attr("stroke", "#808080").attr("stroke-width", 4);
frame.append("line").attr("x1", plot.left).attr("x2", plot.right).attr("y1", plot.top).attr("y2", plot.top)
  .attr("stroke", "#666666").attr("stroke-width", 3.5);
frame.append("line").attr("x1", plot.left - 2).attr("x2", plot.right + 2).attr("y1", plot.bottom).attr("y2", plot.bottom)
  .attr("stroke", "#111111").attr("stroke-width", 3.5);

// Tick labels
const xLabels = svg.append("g")
  .attr("transform", `translate(0,${plot.bottom})`)
  .call(d3.axisBottom(x).tickValues(xTickLabels).tickSize(0).tickPadding(14).tickFormat(d3.format("d")));
xLabels.select(".domain").remove();
xLabels.selectAll("text").attr("font-size", 46).attr("font-family", fontFamily).attr("fill", "#151515");

const yLabels = svg.append("g")
  .attr("transform", `translate(${plot.left},0)`)
  .call(d3.axisLeft(y).tickValues(yTickLabels).tickSize(0).tickPadding(23).tickFormat(d3.format("d")));
yLabels.select(".domain").remove();
yLabels.selectAll("text").attr("font-size", 46).attr("font-family", fontFamily).attr("fill", "#151515");

// Axis titles
svg.append("text")
  .attr("x", (plot.left + plot.right) / 2)
  .attr("y", 1857)
  .attr("text-anchor", "middle")
  .attr("font-size", 46)
  .attr("font-family", fontFamily)
  .attr("fill", "#151515")
  .text(xTitle);

svg.append("text")
  .attr("transform", `translate(60,${(plot.top + plot.bottom) / 2}) rotate(-90)`)
  .attr("text-anchor", "middle")
  .attr("font-size", 46)
  .attr("font-family", fontFamily)
  .attr("fill", "#151515")
  .text(yTitle);
</script>
</body>
</html>
